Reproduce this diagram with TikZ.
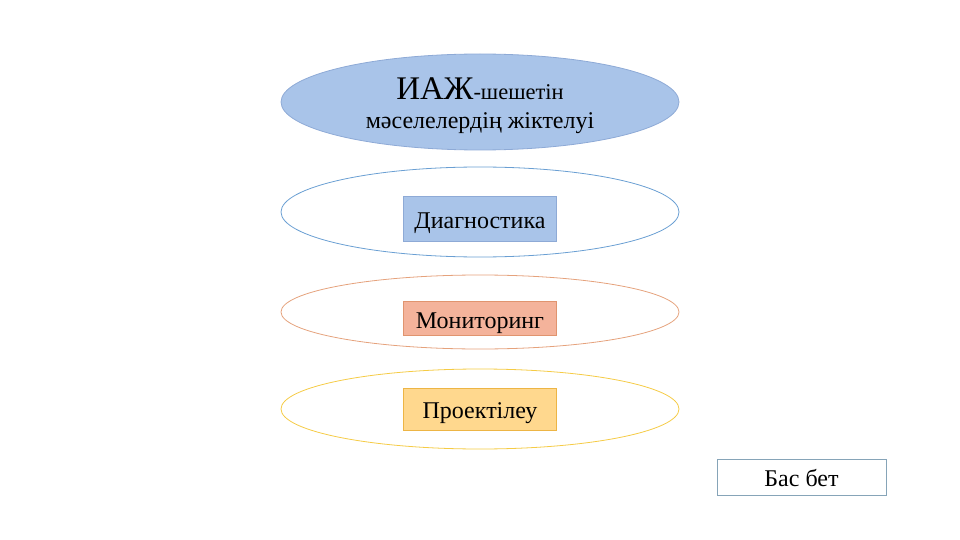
\documentclass[tikz,border=0pt]{standalone}
\usepackage{fontspec}
\setmainfont{Liberation Serif}
\usepackage{xcolor}
\usetikzlibrary{positioning,shapes.geometric}
\definecolor{bluefill}{HTML}{A9C4E9}
\definecolor{blueline}{HTML}{8EAAD6}
\definecolor{bluering}{HTML}{6A9FD3}
\definecolor{orangering}{HTML}{E5A27C}
\definecolor{orangefill}{HTML}{F4B39B}
\definecolor{orangeline}{HTML}{E0946F}
\definecolor{goldring}{HTML}{F5CB45}
\definecolor{goldfill}{HTML}{FFD88E}
\definecolor{goldline}{HTML}{EDB545}
\definecolor{homeline}{HTML}{86A4B8}

\begin{document}
\begin{tikzpicture}[
    x=1pt,y=-1pt,
    font=\fontsize{24}{29}\selectfont,
    ring/.style={ellipse,minimum width=398pt,inner sep=0pt,line width=0.8pt},
    tag/.style={draw,minimum width=153pt,minimum height=40pt,inner sep=0pt,
      line width=0.8pt,text height=19pt,text depth=0pt},
    homebox/.style={tag,fill=white,draw=homeline,minimum width=169pt,
      minimum height=36pt,text height=18pt}
]
\useasboundingbox (0,0) rectangle (960,540);

\node[ring,fill=bluefill,draw=blueline,minimum height=96pt] (titlering)
  at (480,102) {};
\node[align=center,inner sep=0pt] (title) at (480,106)
  {{\fontsize{33}{36}\selectfont ИАЖ}{\fontsize{22.5}{27}\selectfont -шешетін}\\
   мәселелердің жіктелуі};

\node[ring,draw=bluering,minimum height=90pt]   (diagring) at (480,212) {};
\node[ring,draw=orangering,minimum height=74pt] (monitring) at (480,312) {};
\node[ring,draw=goldring,minimum height=80pt]   (proektring) at (480,409) {};

\node[tag,fill=bluefill,draw=blueline,minimum height=45pt] (diag)
  at (480,218.5) {Диагностика};
\node[tag,fill=orangefill,draw=orangeline,minimum height=34pt,
  text height=20pt] (monit) at (480,318) {Мониторинг};
\node[tag,fill=goldfill,draw=goldline,minimum height=42pt,
  text height=18pt] (proekt) at (480,409) {Проектілеу};

\node[homebox] (home) at (801.5,477) {Бас бет};
\end{tikzpicture}
\end{document}
